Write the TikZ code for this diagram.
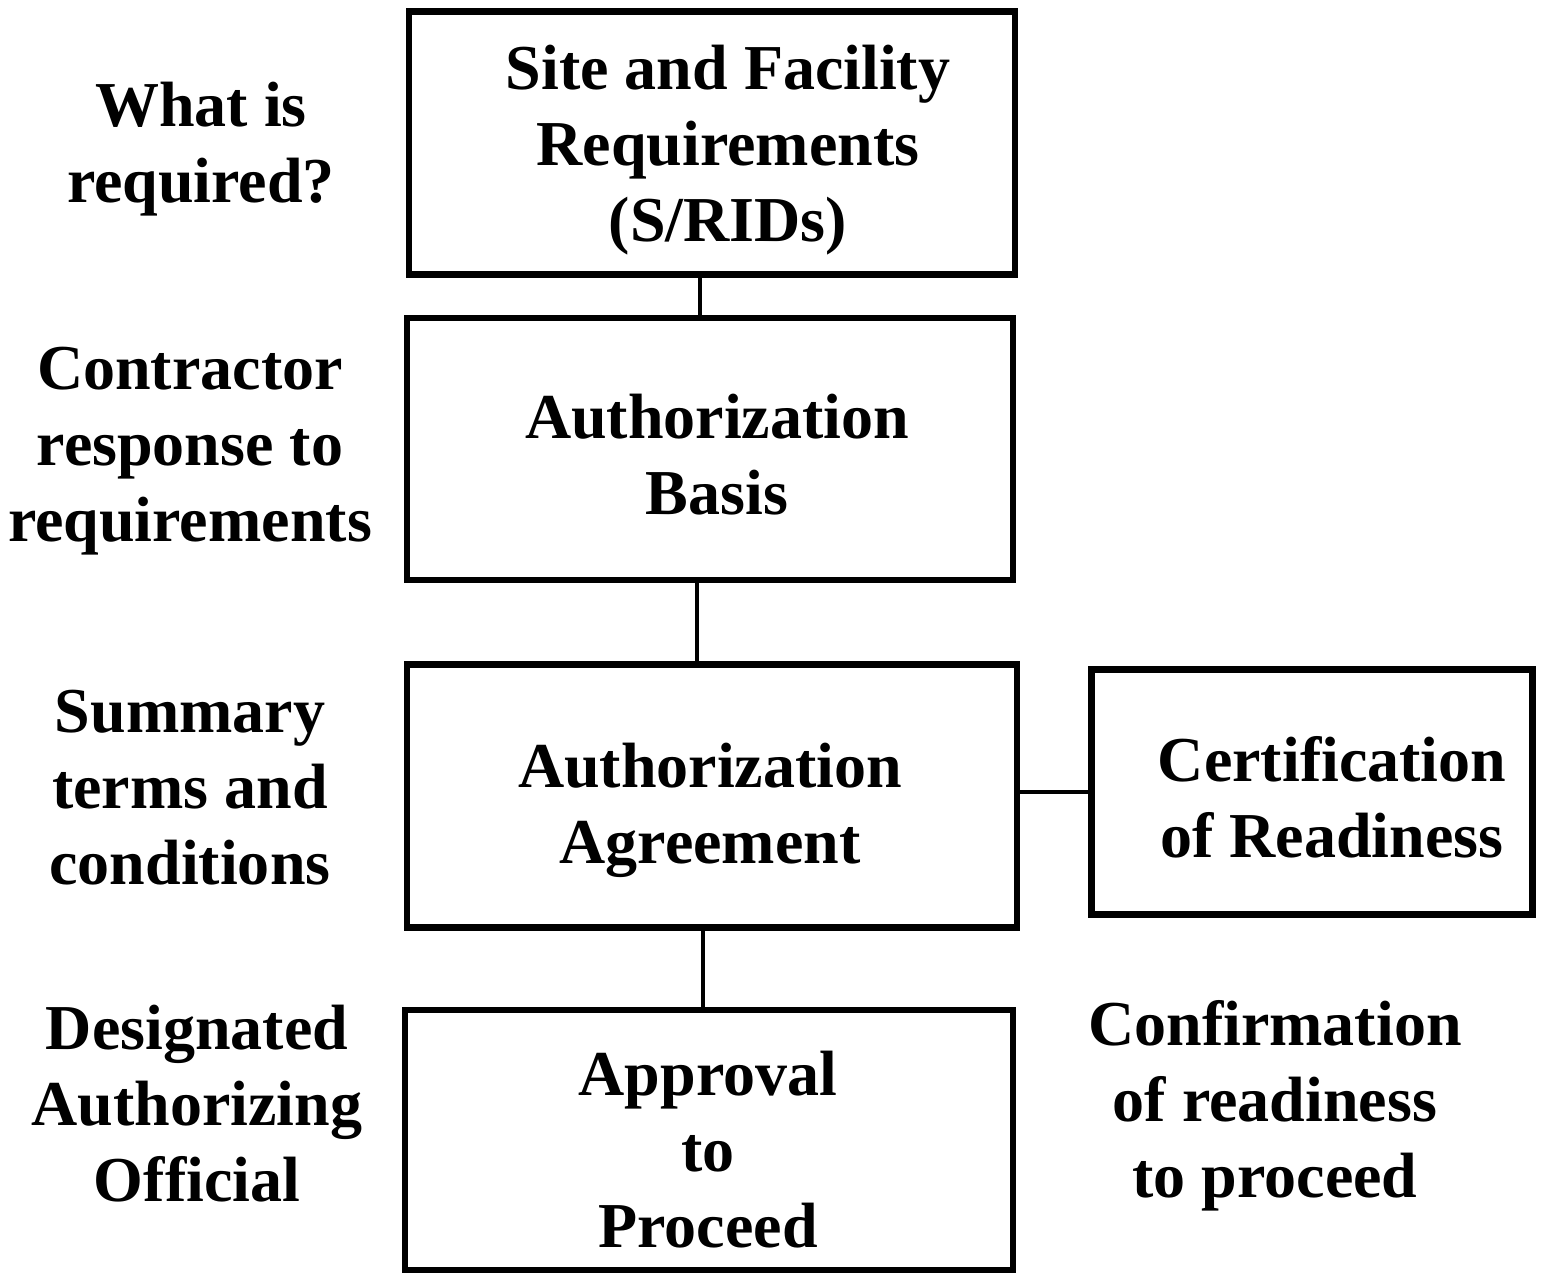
\documentclass[tikz,border=0pt]{standalone}
\usepackage{fontspec}
\setmainfont{Liberation Serif}
\begin{document}
\begin{tikzpicture}[x=0.01cm,y=-0.01cm,
  box/.style={draw,line width=1.8pt,inner sep=0pt},
  lbl/.style={align=center,inner sep=0pt,font=\fontsize{18.2}{21.6}\selectfont\bfseries},
  conn/.style={line width=1.2pt}]
\useasboundingbox (0,0) rectangle (1543,1274);
% boxes
\node[box,minimum width=6.05cm,minimum height=2.63cm] (b1) at (712,143) {};
\node[box,minimum width=6.05cm,minimum height=2.62cm] (b2) at (710,449) {};
\node[box,minimum width=6.09cm,minimum height=2.63cm] (b3) at (712,796) {};
\node[box,minimum width=4.41cm,minimum height=2.45cm] (b4) at (1312,792) {};
\node[box,minimum width=6.07cm,minimum height=2.60cm] (b5) at (709,1140) {};
% box texts
\node[lbl] (t1) at (728,150) {Site and Facility\\Requirements\\(S/RIDs)};
\node[lbl] (t2) at (717,455) {Authorization\\Basis};
\node[lbl] (t3) at (710,810) {Authorization\\Agreement};
\node[lbl] (t4) at (1332,797) {Certification\\of Readiness};
\node[lbl] (t5) at (708,1150) {Approval\\to\\Proceed};
% connectors
\coordinate (c12) at (700,0);
\coordinate (c23) at (697,0);
\coordinate (c35) at (703,0);
\coordinate (c34) at (0,792);
\draw[conn] (b1.south -| c12) -- (b2.north -| c12);
\draw[conn] (b2.south -| c23) -- (b3.north -| c23);
\draw[conn] (b3.south -| c35) -- (b5.north -| c35);
\draw[conn] (b3.east |- c34) -- (b4.west |- c34);
% side labels
\node[lbl] (l1) at (201,149) {What is\\required?};
\node[lbl] (l2) at (190,451) {Contractor\\response to\\requirements};
\node[lbl] (l3) at (190,788) {Summary\\terms and\\conditions};
\node[lbl] (l4) at (197,1104) {Designated\\Authorizing\\Official};
\node[lbl] (l5) at (1275,1106) {Confirmation\\of readiness\\to proceed};
\end{tikzpicture}
\end{document}
